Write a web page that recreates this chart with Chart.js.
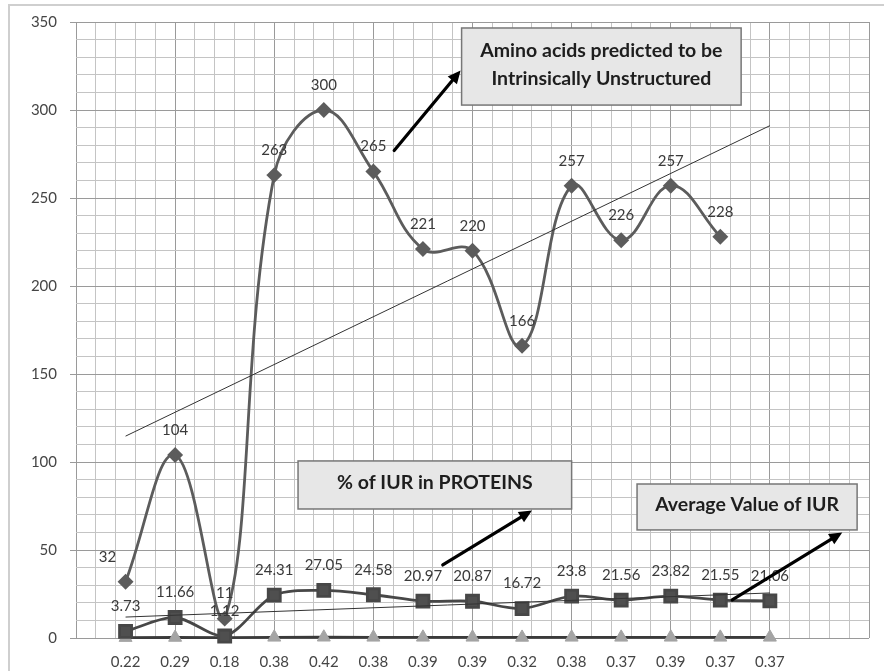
<!DOCTYPE html>
<html><head><meta charset="utf-8">
<script src="https://cdn.jsdelivr.net/npm/chart.js@4/dist/chart.umd.min.js"></script>
<style>
html,body{margin:0;padding:0;background:#fff;overflow:hidden;}
#frame{position:absolute;left:8px;top:4px;width:900px;height:700px;border:2px solid #cfcfcf;box-sizing:border-box;}
#wrap{position:absolute;left:0;top:0;width:884px;height:671px;}
</style></head><body>
<div id="frame"></div>
<div id="wrap"><canvas id="c" width="884" height="671"></canvas></div>
<script>
// ---- data ----
const categories = ['0.22','0.29','0.18','0.38','0.42','0.38','0.39','0.39','0.32','0.38','0.37','0.39','0.37','0.37'];
const aminoAcidsIUR = [32,104,11,263,300,265,221,220,166,257,226,257,228];
const percentIUR = [3.73,11.66,1.12,24.31,27.05,24.58,20.97,20.87,16.72,23.8,21.56,23.82,21.55,21.06];
const averageIUR = [0.22,0.29,0.18,0.38,0.42,0.38,0.39,0.39,0.32,0.38,0.37,0.39,0.37,0.37];
const aminoTrendEnds = [114.7, 291.1];   // linear trend at first and last category
const percentTrendEnds = [11.9, 25.6];
const yMajorTicks = [0,50,100,150,200,250,300,350];
const boxTexts = [
  ['Amino acids predicted to be','Intrinsically Unstructured'],
  ['% of IUR in PROTEINS'],
  ['Average Value of IUR']
];

// ---- helpers ----
const pts = arr => arr.map((v,i)=>({x:i,y:v}));
const lastIdx = categories.length - 1;
const trendPts = ends => [{x:0,y:ends[0]},{x:lastIdx,y:ends[1]}];

// x grid: every 0.4 from -1 to 15, plus label positions at the categories
const xTickValues = (()=>{
  const s = new Set();
  for (let k=0;k<=40;k++) s.add((2*k-5)/5);
  categories.forEach((c,i)=>s.add(i));
  return [...s].sort((a,b)=>a-b);
})();
const onXGrid = v => { const k=(v*5+5)/2; return Math.abs(k-Math.round(k))<1e-6 ? Math.round(k) : null; };

const MAJOR = '#9a9a9a', MINOR = '#c4c4c4', NONE = 'rgba(0,0,0,0)';

// annotation geometry (data coordinates: x = category index, y = value)
const annotations = {
  boxes: [
    {x0:6.78, x1:12.42, y0:346.6, y1:302.8, text:boxTexts[0]},
    {x0:3.48, x1:9.0,  y0:100.6, y1:73.3,  text:boxTexts[1]},
    {x0:10.32,x1:14.76,y0:87.5,  y1:61.4,  text:boxTexts[2]}
  ],
  arrows: [
    {from:[5.42,277.0], to:[6.76,322.5]},
    {from:[6.4,41.5],  to:[8.2,72.5]},
    {from:[12.24,21.6],to:[14.46,60.0]}
  ]
};
const labelNudge = {0:{0:-18}};

const valueLabels = {
  id:'valueLabels',
  afterDatasetsDraw(chart){
    const ctx = chart.ctx;
    ctx.save();
    ctx.font = '15px Lato';
    ctx.fillStyle = '#3a3a3a';
    ctx.textAlign = 'center';
    ctx.textBaseline = 'middle';
    [0,1].forEach(di=>{
      const meta = chart.getDatasetMeta(di);
      const data = chart.data.datasets[di].data;
      meta.data.forEach((el,i)=>{
        const dx = (labelNudge[di] && labelNudge[di][i]) || 0;
        ctx.fillText(String(data[i].y), el.x+dx, el.y-25);
      });
    });
    ctx.restore();
  }
};

const annot = {
  id:'annot',
  afterDraw(chart){
    const ctx = chart.ctx, xs = chart.scales.x, ys = chart.scales.y;
    const X = v=>xs.getPixelForValue(v), Y = v=>ys.getPixelForValue(v);
    ctx.save();
    annotations.arrows.forEach(a=>{
      const x0=X(a.from[0]), y0=Y(a.from[1]), x1=X(a.to[0]), y1=Y(a.to[1]);
      const ang = Math.atan2(y1-y0, x1-x0);
      const hl = 13, hw = 6;
      ctx.strokeStyle = '#000'; ctx.lineWidth = 3.2; ctx.lineCap='round';
      ctx.beginPath(); ctx.moveTo(x0,y0);
      ctx.lineTo(x1-Math.cos(ang)*hl*0.8, y1-Math.sin(ang)*hl*0.8); ctx.stroke();
      ctx.fillStyle = '#000';
      ctx.beginPath();
      ctx.moveTo(x1,y1);
      ctx.lineTo(x1-Math.cos(ang)*hl - Math.sin(ang)*hw, y1-Math.sin(ang)*hl + Math.cos(ang)*hw);
      ctx.lineTo(x1-Math.cos(ang)*hl + Math.sin(ang)*hw, y1-Math.sin(ang)*hl - Math.cos(ang)*hw);
      ctx.closePath(); ctx.fill();
    });
    annotations.boxes.forEach(b=>{
      const x0=X(b.x0), x1=X(b.x1), y0=Y(b.y0), y1=Y(b.y1);
      ctx.fillStyle = '#e7e7e7';
      ctx.fillRect(x0,y0,x1-x0,y1-y0);
      ctx.strokeStyle = '#777'; ctx.lineWidth = 1.5;
      ctx.strokeRect(x0,y0,x1-x0,y1-y0);
      ctx.fillStyle = '#1e1e1e';
      ctx.font = 'bold 19.5px Lato';
      ctx.textAlign='center'; ctx.textBaseline='middle';
      const cx=(x0+x1)/2, cy=(y0+y1)/2 - 2, lh = 28;
      const n=b.text.length;
      b.text.forEach((t,i)=>ctx.fillText(t, cx, cy + (i-(n-1)/2)*lh));
    });
    ctx.restore();
  }
};

function draw(){
  new Chart(document.getElementById('c'), {
    type:'line',
    data:{
      datasets:[
        {label:'Amino acids predicted to be Intrinsically Unstructured', data:pts(aminoAcidsIUR),
         borderColor:'#5c5c5c', backgroundColor:'#5c5c5c', borderWidth:2.8, tension:0.4,
         pointStyle:'rectRot', pointRadius:6, clip:false, order:3},
        {label:'% of IUR in PROTEINS', data:pts(percentIUR),
         borderColor:'#474747', backgroundColor:'#4f4f4f', borderWidth:2.8, tension:0.3,
         pointStyle:'rect', pointRadius:8.5, clip:false, order:2},
        {label:'Average Value of IUR', data:pts(averageIUR),
         borderColor:'#3a3a3a', backgroundColor:'#a4a4a4', pointBorderColor:'#a4a4a4', borderWidth:2.8, tension:0,
         pointStyle:'triangle', pointRadius:7.5, pointBorderWidth:1, clip:false, order:4},
        {label:'trend 1', data:trendPts(aminoTrendEnds), borderColor:'#333', borderWidth:1,
         pointRadius:0, tension:0, order:1},
        {label:'trend 2', data:trendPts(percentTrendEnds), borderColor:'#333', borderWidth:1,
         pointRadius:0, tension:0, order:1}
      ]
    },
    options:{
      responsive:false, animation:false, devicePixelRatio:1,
      layout:{padding:{top:22,right:9,left:0,bottom:0}},
      plugins:{legend:{display:false}, tooltip:{enabled:false}},
      scales:{
        x:{
          type:'linear', min:-1, max:15,
          afterBuildTicks: axis=>{ axis.ticks = xTickValues.map(v=>({value:v})); },
          ticks:{autoSkip:false, maxRotation:0, minRotation:0, padding:15,
            font:{family:'Lato',size:15}, color:'#454545',
            callback:v=> (Number.isInteger(v) && v>=0 && v<categories.length) ? categories[v] : ''},
          grid:{drawTicks:false, lineWidth:1,
            color:c=>{ const k=onXGrid(c.tick.value); if(k===null) return NONE; return k%5===0?MAJOR:MINOR; }},
          border:{display:false},
          afterFit:s=>{ s.height = 33; }
        },
        y:{
          min:0, max:350,
          afterBuildTicks: axis=>{ const t=[]; for(let v=0; v<=350; v+=10) t.push({value:v}); axis.ticks=t; },
          ticks:{autoSkip:false, padding:13, font:{family:'Lato',size:15}, color:'#454545',
            callback:v=> yMajorTicks.includes(v) ? String(v) : ''},
          grid:{tickLength:6, lineWidth:1,
            color:c=> yMajorTicks.includes(c.tick.value)?MAJOR:MINOR,
            tickColor:c=> yMajorTicks.includes(c.tick.value)?MAJOR:NONE},
          border:{display:false},
          afterFit:s=>{ s.width = 76; }
        }
      }
    },
    plugins:[valueLabels, annot]
  });
}
(document.fonts && document.fonts.load ? Promise.all([document.fonts.load('15px Lato'),document.fonts.load('bold 15px Lato')]) : Promise.resolve()).then(draw, draw);
</script>
</body></html>
